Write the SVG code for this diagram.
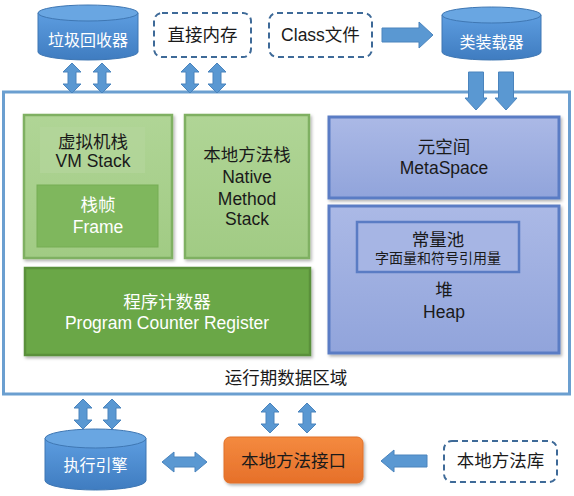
<svg xmlns="http://www.w3.org/2000/svg" width="574" height="496" viewBox="0 0 574 496">
<defs>
  <style>
    text { font-family: "Liberation Sans", "Noto Sans CJK SC", sans-serif; text-anchor: middle; dominant-baseline: central; }
    .t16 { font-size: 16px; }
    .t17 { font-size: 17.5px; fill: #1a1a1a; }
    .t14 { font-size: 14px; fill: #1a1a1a; }
    .w { fill: #ffffff; }
    .dash { fill: #ffffff; stroke: #3e6a98; stroke-width: 2; stroke-dasharray: 6 4; }
    .arr { fill: #5a98d2; stroke: #4a84bd; stroke-width: 1; }
    .lg { fill: url(#gLight); stroke: #7fb062; stroke-width: 2.5; filter: url(#sh); }
    .bl { fill: url(#gBlue); stroke: #5a7cc4; stroke-width: 3; filter: url(#sh); }
    .cyl { fill: url(#gCyl); stroke: #3f77b3; stroke-width: 1; }
    .cyltop { fill: #69a6e2; stroke: #3f77b3; stroke-width: 1; }
  </style>
  <linearGradient id="gLight" x1="0" y1="0" x2="0" y2="1">
    <stop offset="0" stop-color="#b0d596"/>
    <stop offset="1" stop-color="#a1cb84"/>
  </linearGradient>
  <linearGradient id="gBlue" x1="0" y1="0" x2="0" y2="1">
    <stop offset="0" stop-color="#abb9e6"/>
    <stop offset="1" stop-color="#91a4db"/>
  </linearGradient>
  <linearGradient id="gCyl" x1="0" y1="0" x2="0" y2="1">
    <stop offset="0" stop-color="#5d9de0"/>
    <stop offset="1" stop-color="#3f7cc0"/>
  </linearGradient>
  <linearGradient id="gOr" x1="0" y1="0" x2="0" y2="1">
    <stop offset="0" stop-color="#f48a3f"/>
    <stop offset="1" stop-color="#e6702a"/>
  </linearGradient>
  <filter id="sh" x="-10%" y="-10%" width="130%" height="130%">
    <feDropShadow dx="1.5" dy="2" stdDeviation="1.5" flood-color="#000" flood-opacity="0.3"/>
  </filter>
  <path id="vda" d="M0,0 L9,9 L4,9 L4,21 L9,21 L0,30 L-9,21 L-4,21 L-4,9 L-9,9 Z"/>
  <path id="down" d="M-7.5,0 L7.5,0 L7.5,26 L11,26 L0,38 L-11,26 L-7.5,26 Z"/>
</defs>

<!-- Runtime data area -->
<g id="runtime-area">
  <rect x="3.5" y="92" width="566" height="302" fill="#ffffff" stroke="#6b9fd0" stroke-width="3"/>
  <text class="t17" x="286" y="378">运行期数据区域</text>
</g>

<g id="vm-stack">
  <rect class="lg" x="24" y="115" width="148" height="143"/>
  <rect x="40" y="127" width="105" height="46" fill="#b3d69b" opacity="0.7"/>
  <text class="t17" x="93" y="142">虚拟机栈</text>
  <text class="t17" x="93" y="161">VM Stack</text>
</g>
<g id="frame">
  <rect x="37" y="185" width="121" height="62" fill="#7fb75d" stroke="#76ad55" stroke-width="1"/>
  <text class="t17 w" x="98" y="205">栈帧</text>
  <text class="t17 w" x="98" y="227">Frame</text>
</g>
<g id="native-stack">
  <rect class="lg" x="185" y="115" width="124" height="143"/>
  <text class="t17" x="247" y="155">本地方法栈</text>
  <text class="t17" x="247" y="177">Native</text>
  <text class="t17" x="247" y="199">Method</text>
  <text class="t17" x="247" y="219">Stack</text>
</g>
<g id="pc-register">
  <rect x="25" y="268" width="285" height="87" fill="#6aa746" stroke="#5a903a" stroke-width="2.5" filter="url(#sh)"/>
  <text class="t17 w" x="167" y="302">程序计数器</text>
  <text class="t17 w" x="167" y="323">Program Counter Register</text>
</g>
<g id="metaspace">
  <rect class="bl" x="329" y="117" width="230" height="81"/>
  <text class="t17" x="444" y="147">元空间</text>
  <text class="t17" x="444" y="168">MetaSpace</text>
</g>
<g id="heap">
  <rect class="bl" x="329" y="206" width="230" height="147"/>
  <text class="t17" x="444" y="290">堆</text>
  <text class="t17" x="444" y="312">Heap</text>
</g>
<g id="constant-pool">
  <rect x="357" y="222" width="162" height="50" fill="#a6b5e4" stroke="#5a7cc4" stroke-width="2.5"/>
  <text class="t17" x="438" y="240">常量池</text>
  <text class="t14" x="438" y="258">字面量和符号引用量</text>
</g>

<!-- top nodes -->
<g id="gc">
  <path class="cyl" d="M38,13 L38,52 A50,8 0 0 0 138,52 L138,13 Z"/>
  <ellipse class="cyltop" cx="88" cy="13" rx="50" ry="8"/>
  <text class="t16 w" x="88" y="40">垃圾回收器</text>
</g>
<g id="direct-memory">
  <rect class="dash" x="154" y="13" width="97" height="44" rx="8"/>
  <text class="t17" x="202.5" y="35">直接内存</text>
</g>
<g id="class-file">
  <rect class="dash" x="269" y="13" width="103" height="44" rx="8"/>
  <text class="t17" x="320.5" y="35">Class文件</text>
</g>
<g id="class-loader">
  <path class="cyl" d="M442,15 L442,52 A49.5,8 0 0 0 541,52 L541,15 Z"/>
  <ellipse class="cyltop" cx="491.5" cy="15" rx="49.5" ry="8"/>
  <text class="t16 w" x="491.5" y="42">类装载器</text>
</g>

<!-- bottom nodes -->
<g id="exec-engine">
  <path class="cyl" d="M45,438.5 L45,480.5 A50.5,9.5 0 0 0 146,480.5 L146,438.5 Z"/>
  <ellipse class="cyltop" cx="95.5" cy="438.5" rx="50.5" ry="9.5"/>
  <text class="t16 w" x="95.5" y="465">执行引擎</text>
</g>
<g id="jni">
  <rect x="224" y="437" width="139" height="46" rx="6" fill="url(#gOr)" stroke="#e07028" stroke-width="1" filter="url(#sh)"/>
  <text class="t17" x="293.5" y="461" fill="#fdf0e6">本地方法接口</text>
</g>
<g id="native-lib">
  <rect class="dash" x="444" y="441" width="113" height="41" rx="8"/>
  <text class="t17" x="500.5" y="461">本地方法库</text>
</g>

<!-- connectors -->
<g id="connectors">
  <use href="#vda" class="arr" x="72" y="63"/>
  <use href="#vda" class="arr" x="102" y="63"/>
  <use href="#vda" class="arr" x="190" y="63"/>
  <use href="#vda" class="arr" x="217" y="63"/>
  <path class="arr" d="M382,28 L419,28 L419,22 L433,35 L419,48 L419,42 L382,42 Z"/>
  <use href="#down" class="arr" x="476" y="72"/>
  <use href="#down" class="arr" x="506" y="72"/>
  <use href="#vda" class="arr" x="83" y="399"/>
  <use href="#vda" class="arr" x="112" y="399"/>
  <use href="#vda" class="arr" x="270" y="403"/>
  <use href="#vda" class="arr" x="307" y="403"/>
  <path class="arr" d="M162,462 L174,452 L174,457 L195,457 L195,452 L207,462 L195,472 L195,467 L174,467 L174,472 Z"/>
  <path class="arr" d="M381,461 L394,450 L394,455 L427,455 L427,467 L394,467 L394,472 Z"/>
</g>
</svg>
